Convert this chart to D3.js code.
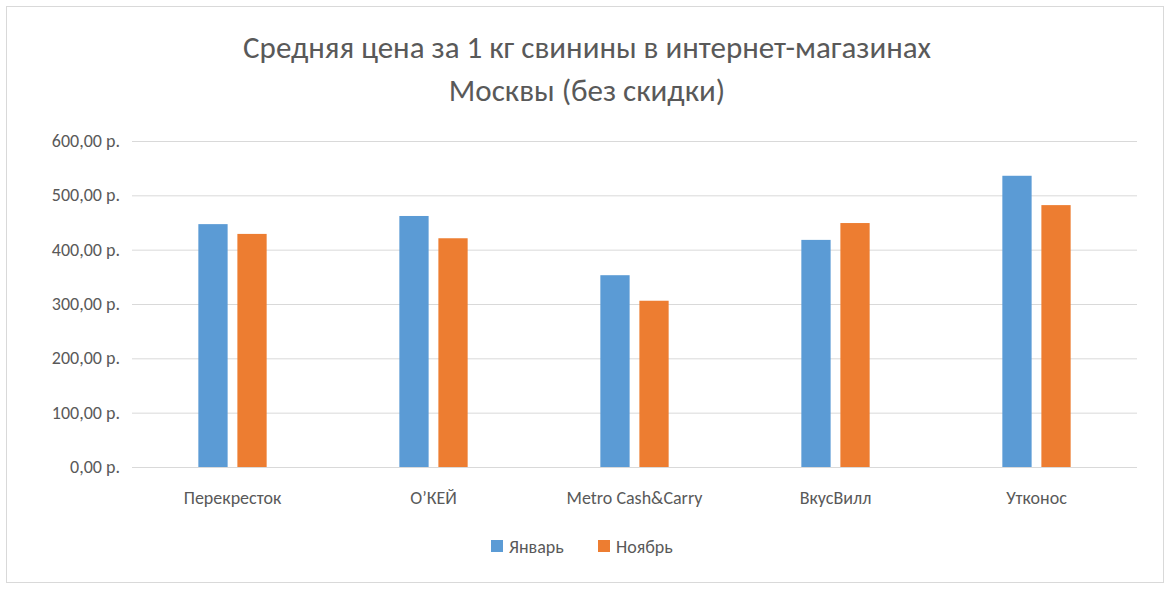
<!DOCTYPE html>
<html><head><meta charset="utf-8">
<script src="https://cdn.jsdelivr.net/npm/d3@7"></script>
<style>body{margin:0;background:#fff}text{font-family:Calibri,Carlito,"Open Sans",sans-serif}</style>
</head><body><svg id="c" width="1175" height="594"></svg>
<script>
const categories=["Перекресток","О’КЕЙ","Metro Cash&Carry","ВкусВилл","Утконос"];
const seriesNames=["Январь","Ноябрь"];
const january=[447,462,353,418,536];
const november=[429,421,306,449,482];
const yTicks=[0,100,200,300,400,500,600];
const colors=["#5b9bd5","#ed7d31"];
const svg=d3.select("#c");
svg.append("rect").attr("x",6.5).attr("y",6.5).attr("width",1157).attr("height",576).attr("fill","#fff").attr("stroke","#d9d9d9");
const L=132,R=1137,T=141,B=467;
const x=d3.scaleBand().domain(categories).range([L,R]);
const xs=d3.scaleBand().domain(seriesNames).range([0,x.bandwidth()]).paddingInner(0.25).paddingOuter(1.7);
const y=d3.scaleLinear().domain([0,600]).range([B,T]);
svg.append("g").selectAll("line").data(yTicks).join("line").attr("x1",L).attr("x2",R)
 .attr("y1",d=>y(d)+0.5).attr("y2",d=>y(d)+0.5).attr("stroke","#d9d9d9");
svg.append("g").selectAll("text").data(yTicks).join("text").attr("x",120).attr("y",d=>y(d)+6)
 .attr("text-anchor","end").attr("font-size",18).attr("fill","#595959").text(d=>d.toFixed(2).replace(".",",")+" р.");
const data=[january,november];
data.forEach((s,i)=>{
 svg.append("g").selectAll("rect").data(s).join("rect")
  .attr("x",(d,j)=>x(categories[j])+xs(seriesNames[i])).attr("width",xs.bandwidth())
  .attr("y",d=>y(d)).attr("height",d=>B-y(d)).attr("fill",colors[i]);
});
svg.append("g").selectAll("text").data(categories).join("text").attr("x",d=>x(d)+x.bandwidth()/2).attr("y",504)
 .attr("text-anchor","middle").attr("font-size",18).attr("fill","#595959").text(d=>d);
svg.append("text").attr("x",587).attr("y",58).attr("text-anchor","middle").attr("font-size",31).attr("fill","#595959").text("Средняя цена за 1 кг свинины в интернет-магазинах");
svg.append("text").attr("x",587).attr("y",101).attr("text-anchor","middle").attr("font-size",31).attr("fill","#595959").text("Москвы (без скидки)");
const lg=[[491,"Январь"],[598,"Ноябрь"]];
lg.forEach((l,i)=>{
 svg.append("rect").attr("x",l[0]).attr("y",540).attr("width",12).attr("height",12).attr("fill",colors[i]);
 svg.append("text").attr("x",l[0]+18).attr("y",553).attr("font-size",18).attr("fill","#595959").text(l[1]);
});
</script></body></html>
